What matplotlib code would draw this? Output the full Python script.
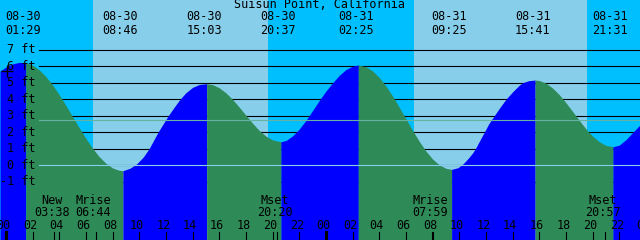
import numpy as np
import matplotlib
matplotlib.use("Agg")
import matplotlib.pyplot as plt
from matplotlib.transforms import ScaledTranslation

# hours from 08-30 00:00
title = "Suisun Point, California"

sunrise = [6.53, 30.6]
sunset = [19.65, 43.6]

ext_t = [1.48, 8.77, 15.05, 20.62, 26.42, 33.42, 39.68, 45.52]
ext_labels = ["08-30\n01:29", "08-30\n08:46", "08-30\n15:03", "08-30\n20:37",
              "08-31\n02:25", "08-31\n09:25", "08-31\n15:41", "08-31\n21:31"]

# tide height (ft)
tide_t = [-0.45, 0.0, 0.5, 1.0, 1.48, 2.0, 2.5, 3.0, 3.5, 4.0, 4.5, 5.0, 5.5,
          6.0, 6.5, 7.0, 7.5, 8.0, 8.5, 8.77,
          9.3, 9.8, 10.3, 10.73, 11.1, 11.4, 11.8, 12.17, 12.6, 13.05, 13.5,
          14.0, 14.5, 15.05,
          15.5, 16.0, 16.5, 17.0, 17.5, 18.0, 18.5, 19.0, 19.5, 20.0, 20.62,
          21.0, 21.5, 22.0, 22.5, 23.0, 23.5, 24.0, 24.5, 25.0, 25.5, 26.0, 26.42,
          27.0, 27.5, 28.0, 28.5, 29.0, 29.5, 30.0, 30.5, 31.0, 31.5, 32.0,
          32.5, 33.0, 33.42,
          33.9, 34.3, 34.7, 35.0, 35.2, 35.5, 35.87, 36.2, 36.62, 37.0, 37.5,
          38.0, 38.5, 38.75, 39.2, 39.68,
          40.0, 40.5, 41.0, 41.5, 42.0, 42.5, 43.0, 43.5, 44.0, 44.5, 45.0, 45.52,
          46.0, 46.5, 47.0, 47.55]
tide_h = [5.71, 5.95, 6.14, 6.23, 6.21, 6.06, 5.77, 5.36, 4.85, 4.26, 3.61, 2.93, 2.26,
          1.61, 1.02, 0.51, 0.11, -0.17, -0.31, -0.33,
          -0.18, 0.08, 0.50, 1.00, 1.55, 2.00, 2.52, 3.00, 3.50, 4.00, 4.40,
          4.72, 4.89, 4.94,
          4.88, 4.69, 4.38, 3.98, 3.51, 3.02, 2.54, 2.10, 1.76, 1.53, 1.42,
          1.50, 1.78, 2.20, 2.72, 3.32, 3.93, 4.50, 5.00, 5.45, 5.80, 6.00, 6.07,
          5.96, 5.71, 5.31, 4.79, 4.18, 3.50, 2.80, 2.10, 1.44, 0.85, 0.37,
          0.02, -0.19, -0.25,
          -0.15, 0.10, 0.45, 0.75, 1.00, 1.45, 2.00, 2.50, 3.00, 3.45, 4.00,
          4.45, 4.85, 5.00, 5.12, 5.16,
          5.13, 4.97, 4.67, 4.27, 3.78, 3.25, 2.71, 2.20, 1.76, 1.42, 1.20, 1.12,
          1.22, 1.55, 1.98, 2.44]

ft_levels = [-1, 0, 1, 2, 3, 4, 5, 6, 7]
msl = 2.72

events_t = [3.63, 6.73, 20.33, 31.98, 44.95]
events_lbl = ["New\n03:38", "Mrise\n06:44", "Mset\n20:20", "Mrise\n07:59", "Mset\n20:57"]

hours = list(range(0, 49, 2))
hour_lbl = ["%02d" % (h % 24) for h in hours]

fig = plt.figure(figsize=(6.4, 2.4), dpi=100)
fig.patch.set_facecolor("#00BFFF")
ax = fig.add_axes([0, 0, 1, 1])
ax.set_xlim(-0.45, 47.55)
ax.set_ylim(-4.53, 10.01)
ax.axis("off")
font = dict(family="DejaVu Sans Mono", size=8.5)

# day background
for a, b in zip(sunrise, sunset):
    ax.axvspan(a, b, color="#87CEEB", lw=0, zorder=0)

# foot lines (behind the water)
x0 = 2.48
for lv in ft_levels:
    ax.plot([x0, 47.55], [lv, lv], color="black", lw=0.8, zorder=1)
    ax.text(2.2, lv, "%d ft" % lv, ha="right", va="center", zorder=5, **font)

# water: blue while rising, green while falling
t = np.array(tide_t)
h = np.array(tide_h)
cuts = [0] + [int(np.argmin(abs(t - e))) for e in ext_t] + [len(t) - 1]
for i0, i1 in zip(cuts[:-1], cuts[1:]):
    col = "#0000FF" if h[i1] > h[i0] else "#2E8B57"
    ax.fill_between(t[i0:i1 + 1], h[i0:i1 + 1], -4.53, color=col, lw=0, zorder=2)

# datum and mean level lines
ax.plot([x0, 47.55], [0, 0], color="#87CEEB", lw=0.8, zorder=3)
ax.plot([x0, 47.55], [msl, msl], color="#66B2A0", lw=0.8, zorder=3)
ax.plot([0.05], [5.7], marker="+", color="black", ms=8, mew=0.9, zorder=5)

shift = ax.get_xaxis_transform() + ScaledTranslation(-2.5 / 100, 0, fig.dpi_scale_trans)

ax.text(0.5, 1 - 5 / 240, title, transform=ax.transAxes, ha="center", va="center", **font)
for et, lb in zip(ext_t, ext_labels):
    ax.text(et, 1 - 23.5 / 240, lb, transform=shift, ha="center", va="center",
            linespacing=1.02, **font)

for et, lb in zip(events_t, events_lbl):
    ax.text(et, (240 - 206.5) / 240, lb, transform=shift, ha="center", va="center",
            linespacing=0.98, zorder=5, **font)
    ax.plot([et, et], [0, 8 / 240], transform=ax.get_xaxis_transform(),
            color="black", lw=0.8, zorder=5)

for hr, lb in zip(hours, hour_lbl):
    ax.text(hr, (240 - 225.5) / 240, lb, transform=shift, ha="center", va="center",
            zorder=5, clip_on=True, **font)
    ax.plot([hr, hr], [0, 8 / 240], transform=ax.get_xaxis_transform(),
            color="black", lw=2.2 if hr % 24 == 0 else 0.8, zorder=5)

fig.savefig("out.png", dpi=100, facecolor=fig.get_facecolor())
